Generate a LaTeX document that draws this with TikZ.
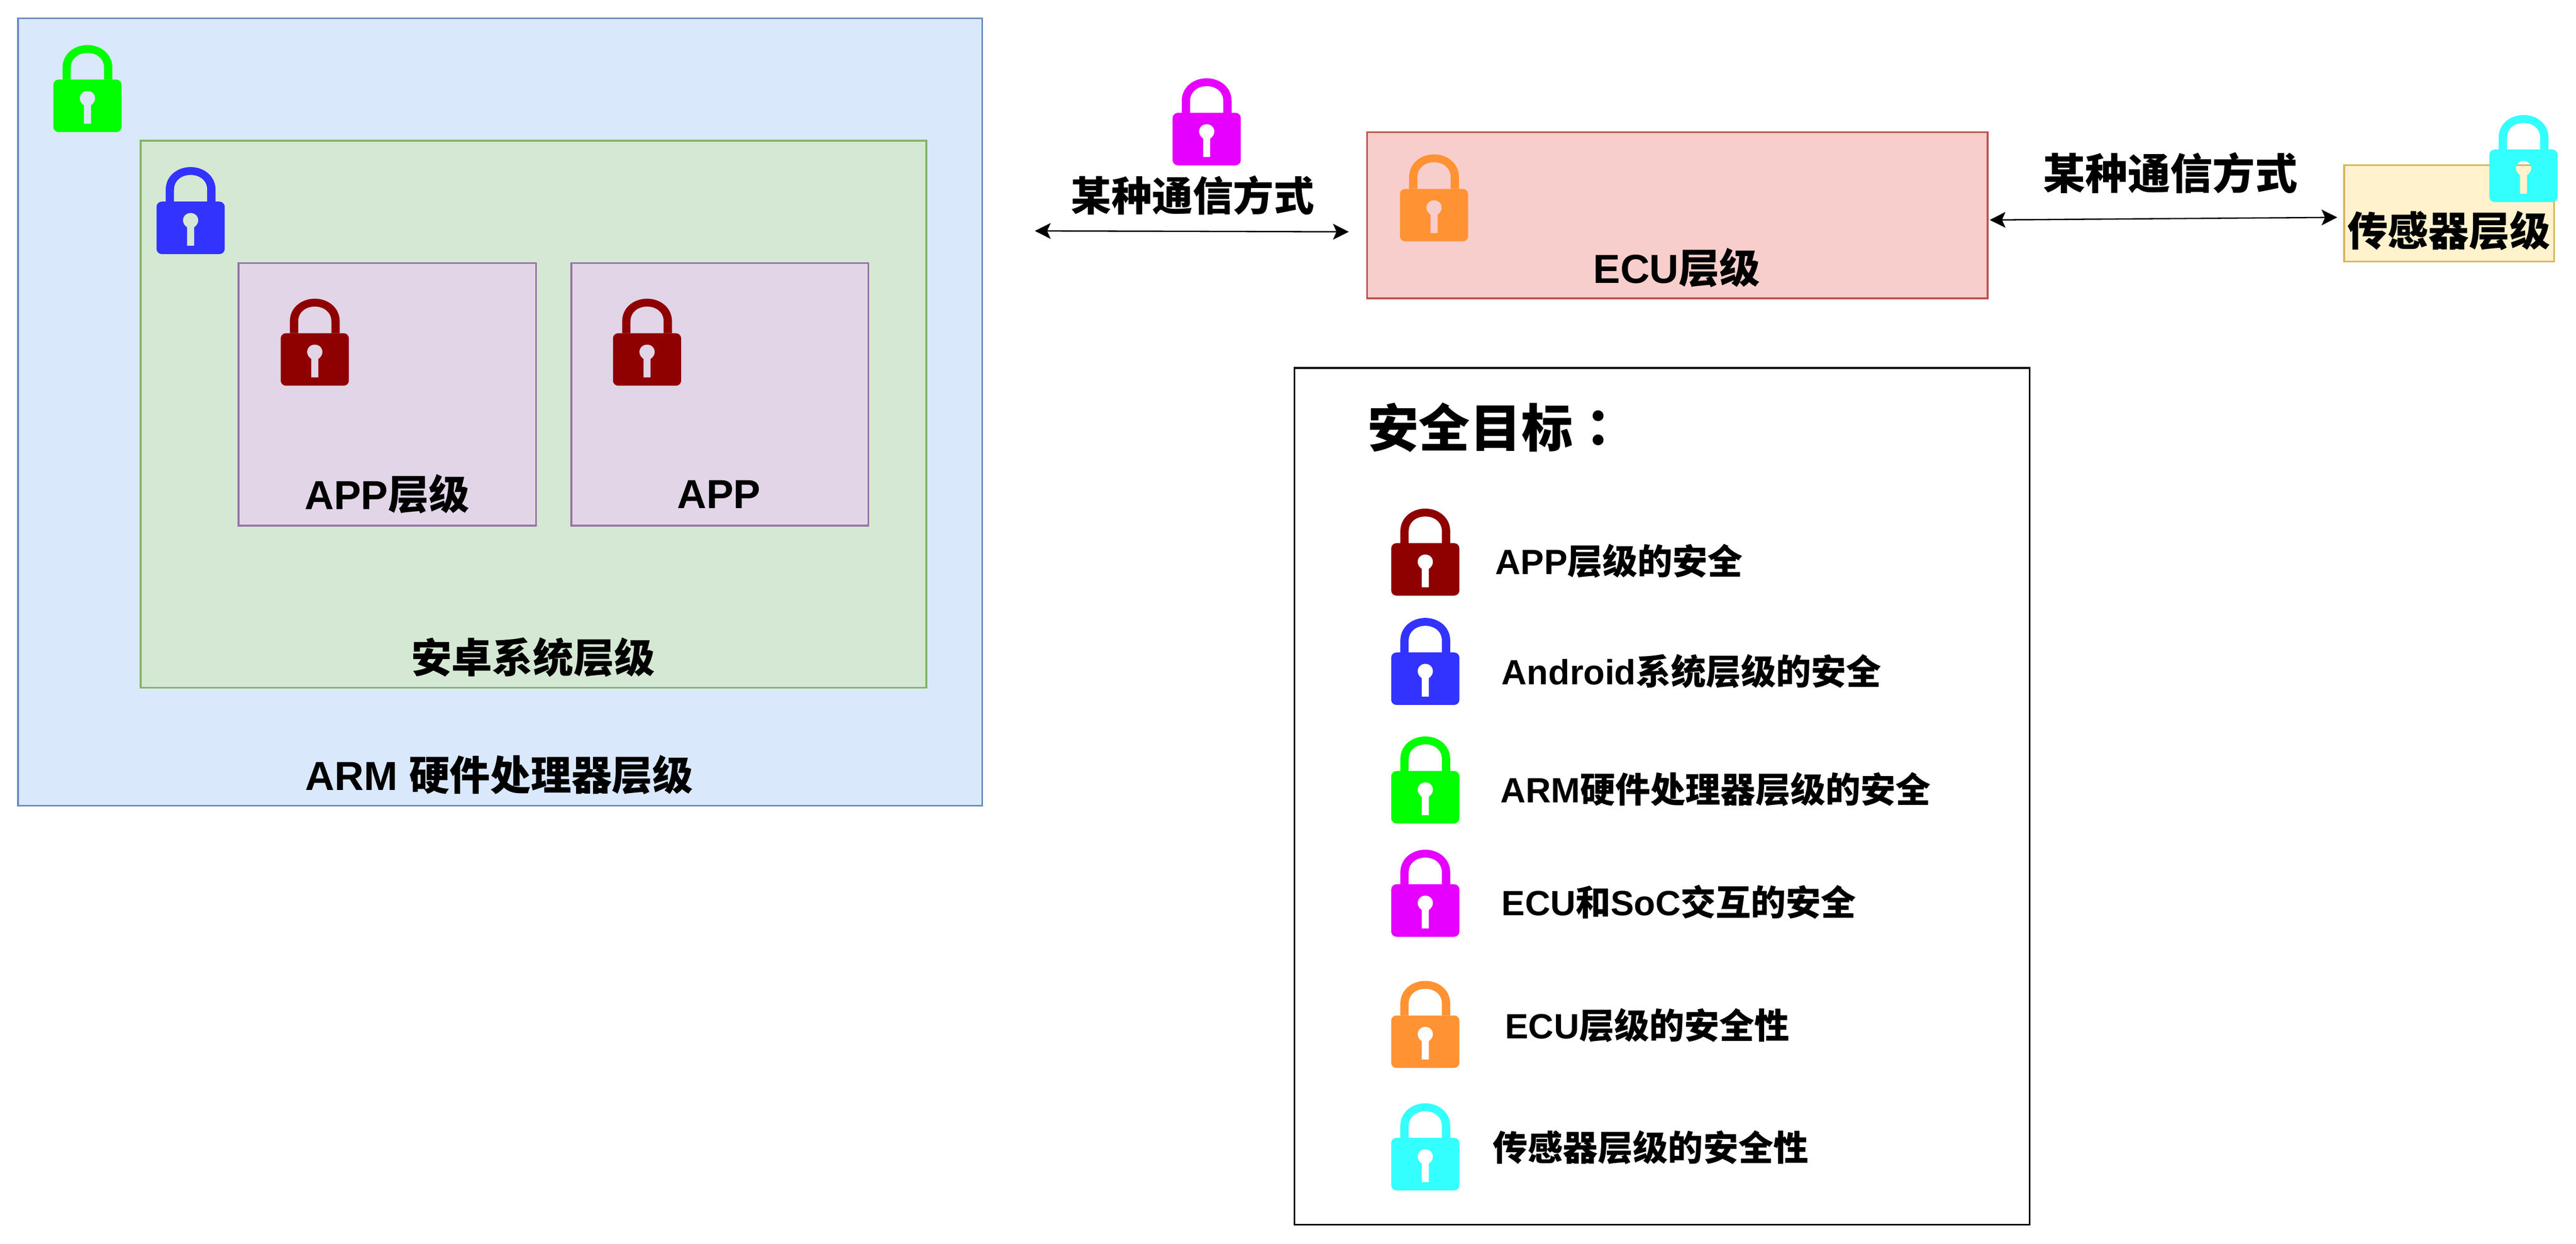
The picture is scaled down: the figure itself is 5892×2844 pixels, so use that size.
\documentclass[tikz,border=0pt]{standalone}
\usepackage{fontspec}
\usetikzlibrary{arrows.meta}
\setmainfont{Liberation Sans}
\newfontfamily\cjk{Noto Sans CJK SC}
\newfontfamily\cjkcolon{Noto Sans CJK TC}
\newcommand{\zh}[1]{{\cjk #1}}
\definecolor{lockgreen}{HTML}{00FF00}
\definecolor{lockblue}{HTML}{3333FF}
\definecolor{lockred}{HTML}{8F0000}
\definecolor{lockpink}{HTML}{E500FF}
\definecolor{lockorange}{HTML}{FF9333}
\definecolor{lockcyan}{HTML}{33FFFF}
\definecolor{armfill}{HTML}{DAE8FC}
\definecolor{armline}{HTML}{6C8EBF}
\definecolor{sysfill}{HTML}{D5E8D4}
\definecolor{sysline}{HTML}{82B366}
\definecolor{appfill}{HTML}{E1D5E7}
\definecolor{appline}{HTML}{9673A6}
\definecolor{ecufill}{HTML}{F8CECC}
\definecolor{eculine}{HTML}{B85450}
\definecolor{senfill}{HTML}{FFF2CC}
\definecolor{senline}{HTML}{D6B656}
\tikzset{
    padlock/.pic={
        \fill[#1] (-57,79) -- (-57,52) .. controls (-57,20) and (-30,0) .. (0,0)
            .. controls (30,0) and (57,20) .. (57,52) -- (57,79) -- (38,79) -- (38,52)
            .. controls (38,30) and (20,18) .. (0,18) .. controls (-20,18) and (-38,30) .. (-38,52)
            -- (-38,79) -- cycle;
        \fill[#1,even odd rule] [rounded corners=0.12cm] (-78,79) rectangle (78,199) [sharp corners]
            (-8,180) -- (-8,138) .. controls (-14,134) and (-17.5,128) .. (-17.5,122)
            .. controls (-17.5,112) and (-10,105) .. (0,105) .. controls (10,105) and (17.5,112) .. (17.5,122)
            .. controls (17.5,128) and (14,134) .. (8,138) -- (8,180) -- cycle;
    },
    block/.style={rectangle,line width=0.04cm,inner sep=0pt},
    armblock/.style={block,fill=armfill,draw=armline},
    sysblock/.style={block,fill=sysfill,draw=sysline},
    appblock/.style={block,fill=appfill,draw=appline,minimum height=6cm},
    ecublock/.style={block,fill=ecufill,draw=eculine},
    senblock/.style={block,fill=senfill,draw=senline},
    title/.style={font=\bfseries\fontsize{26.4}{30}\selectfont,inner sep=0pt},
    legend/.style={font=\bfseries\fontsize{22.8}{26}\selectfont,inner sep=0pt,anchor=west},
    link/.style={{Stealth[length=0.36cm,width=0.36cm,inset=0.08cm]}-{Stealth[length=0.36cm,width=0.36cm,inset=0.08cm]},line width=0.03cm},
}
\begin{document}
\begin{tikzpicture}[x=0.01cm,y=-0.01cm]
    \useasboundingbox (0,0) rectangle (5892,2844);
    \node[armblock,minimum width=22.04cm,minimum height=18cm] (arm) at (1144,942) {};
    \node[sysblock,minimum width=17.96cm,minimum height=12.5cm] (android) at (1220,947) {};
    \node[appblock,minimum width=6.8cm] (app1) at (886,902) {};
    \node[appblock,minimum width=6.79cm] (app2) at (1646.5,902) {};
    \node[ecublock,minimum width=14.19cm,minimum height=3.8cm] (ecu) at (3836.5,492) {};
    \node[senblock,minimum width=4.8cm,minimum height=2.2cm] (sensor) at (5602,488) {};
    \node[block,fill=white,draw=black,minimum width=16.81cm,minimum height=19.58cm] (goal) at (3801.5,1821) {};

    \node[title] (armtext) at (1142,1772) {ARM \zh{硬件处理器层级}};
    \node[title] (androidtext) at (1219,1503) {\zh{安卓系统层级}};
    \node[title] (app1text) at (885,1130) {APP\zh{层级}};
    \node[title] (app2text) at (1644,1130) {APP};
    \node[title] (ecutext) at (3835,612) {ECU\zh{层级}};
    \node[title] (sensortext) at (5601,527) {\zh{传感器层级}};
    \node[title] (link1text) at (2728,447) {\zh{某种通信方式}};
    \node[title,font=\bfseries\fontsize{27.6}{30}\selectfont] (link2text) at (4964,396) {\zh{某种通信方式}};
    \node[title,font=\bfseries\fontsize{33.4}{36}\selectfont,anchor=west] (goaltext) at (3127,978) {\zh{安全目标}{\cjkcolon ：}};

    \coordinate (link1a) at (2367,528);
    \coordinate (link1b) at (3085,530);
    \coordinate (link2a) at (4551,503);
    \coordinate (link2b) at (5346,497);
    \draw[link] (link1a) -- (link1b);
    \draw[link] (link2a) -- (link2b);

    \pic at (200,103) {padlock=lockgreen};
    \pic at (436,382) {padlock=lockblue};
    \pic at (720,683) {padlock=lockred};
    \pic at (1480,683) {padlock=lockred};
    \pic at (2760,179) {padlock=lockpink};
    \pic at (3280,353) {padlock=lockorange};
    \pic at (5772,263) {padlock=lockcyan};

    \pic at (3260,1163) {padlock=lockred};
    \node[legend] (goal1) at (3420,1283) {APP\zh{层级的安全}};
    \pic at (3260,1413) {padlock=lockblue};
    \node[legend] (goal2) at (3434,1535) {Android\zh{系统层级的安全}};
    \pic at (3260,1684) {padlock=lockgreen};
    \node[legend] (goal3) at (3431,1805) {ARM\zh{硬件处理器层级的安全}};
    \pic at (3260,1943) {padlock=lockpink};
    \node[legend] (goal4) at (3434,2063) {ECU\zh{和}SoC\zh{交互的安全}};
    \pic at (3260,2243) {padlock=lockorange};
    \node[legend] (goal5) at (3442,2345) {ECU\zh{层级的安全性}};
    \pic at (3260,2523) {padlock=lockcyan};
    \node[legend] (goal6) at (3414,2624) {\zh{传感器层级的安全性}};
\end{tikzpicture}
\end{document}
